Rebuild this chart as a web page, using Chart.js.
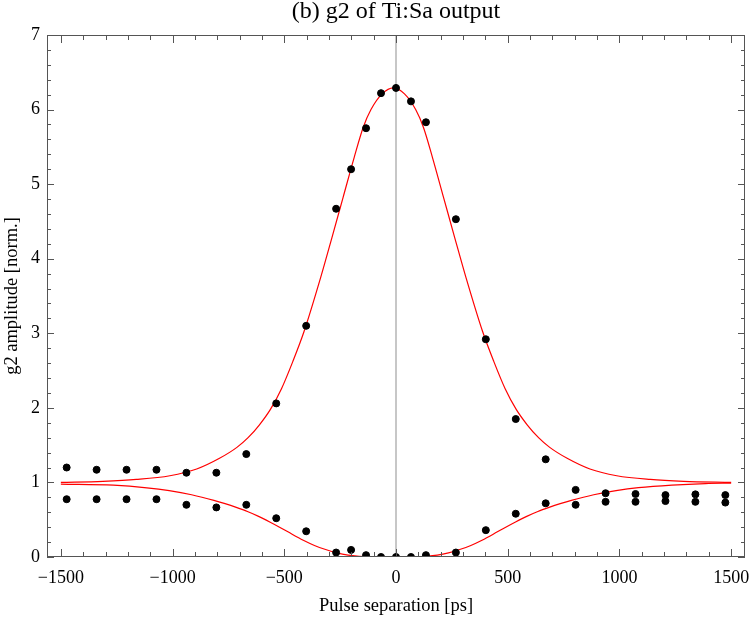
<!DOCTYPE html>
<html lang="en">
<head>
<meta charset="UTF-8">
<title>g2 of Ti:Sa output</title>
<style>
  html, body { margin: 0; padding: 0; background: #fff; }
  .chartBox { width: 750px; height: 618px; }
</style>
</head>
<body>
<div class="chartBox"><canvas id="myChart" width="750" height="618"></canvas></div>

<script src="https://cdn.jsdelivr.net/npm/chart.js"></script>
<script>
// measured g2 points, pulse separation in ps
const separation = [-1474, -1340, -1206, -1072, -938, -804, -670, -536, -402, -268, -201, -134, -67,
                    0, 67, 134, 268, 402, 536, 670, 804, 938, 1072, 1206, 1340, 1474];
const g2Upper = [1.20, 1.17, 1.17, 1.17, 1.13, 1.13, 1.38, 2.06, 3.10, 4.67, 5.20, 5.75, 6.22,
                 6.29, 6.11, 5.83, 4.53, 2.92, 1.85, 1.31, 0.90, 0.855, 0.845, 0.83, 0.84, 0.83];
const g2Lower = [0.775, 0.775, 0.775, 0.775, 0.70, 0.665, 0.70, 0.52, 0.345, 0.06, 0.095, 0.025, 0.0,
                 0.0, 0.0, 0.025, 0.06, 0.36, 0.58, 0.72, 0.70, 0.74, 0.74, 0.75, 0.74, 0.73];

// red fit curves
const fitUpperX = [-1500, -1312, -1162, -1012, -892, -792, -712, -662, -612, -562, -512, -462, -412,
                   -337, -287, -237, -187, -147, -112, -62, -12, 38, 88, 123, 163, 213, 263, 313,
                   388, 438, 488, 538, 588, 638, 688, 768, 868, 988, 1138, 1288, 1500];
const fitUpperY = [1.00, 1.015, 1.04, 1.09, 1.18, 1.32, 1.47, 1.60, 1.77, 1.98, 2.26, 2.62, 3.02,
                   3.75, 4.28, 4.82, 5.36, 5.76, 6.00, 6.21, 6.29, 6.21, 6.00, 5.76, 5.36, 4.82, 4.28, 3.75,
                   3.02, 2.62, 2.26, 1.98, 1.77, 1.60, 1.47, 1.32, 1.18, 1.09, 1.04, 1.015, 1.00];
const fitLowerX = [-1500, -1265, -1115, -1015, -915, -815, -765, -715, -665, -615, -565, -515, -465,
                   -415, -365, -315, -265, -215, -165, -115, -15, 85, 135, 185, 235, 285, 335, 385,
                   435, 485, 535, 585, 635, 685, 735, 785, 885, 985, 1085, 1235, 1385, 1500];
const fitLowerY = [0.978, 0.963, 0.928, 0.89, 0.835, 0.76, 0.715, 0.665, 0.61, 0.545, 0.47, 0.39, 0.305,
                   0.225, 0.155, 0.10, 0.055, 0.025, 0.01, 0.003, 0.0, 0.003, 0.01, 0.025, 0.055, 0.10, 0.155, 0.225,
                   0.305, 0.39, 0.47, 0.545, 0.61, 0.665, 0.715, 0.76, 0.835, 0.89, 0.93, 0.965, 0.985, 0.99];

const xTicks = [-1500, -1000, -500, 0, 500, 1000, 1500];
const yTicks = [0, 1, 2, 3, 4, 5, 6, 7];

const pts = (xs, ys) => xs.map((x, i) => ({x: x, y: ys[i]}));
const minus = v => v < 0 ? '\u2212' + Math.abs(v) : String(v);

// Mathematica style frame with inward ticks on all four sides
const frameTicks = {
  id: 'frameTicks',
  afterDatasetsDraw(chart) {
    const {ctx, chartArea: a, scales: {x, y}} = chart;
    ctx.save();
    ctx.strokeStyle = '#555';
    ctx.lineWidth = 1;
    ctx.strokeRect(a.left + 0.5, a.top + 0.5, a.right - a.left - 1, a.bottom - a.top - 1);
    ctx.beginPath();
    for (let v = -1500; v <= 1500; v += 100) {
      const px = Math.round(x.getPixelForValue(v)) + 0.5;
      const len = v % 500 === 0 ? 8 : 5;
      ctx.moveTo(px, a.bottom); ctx.lineTo(px, a.bottom - len);
      ctx.moveTo(px, a.top); ctx.lineTo(px, a.top + len);
    }
    for (let k = 0; k <= 35; k++) {
      const py = Math.round(y.getPixelForValue(k / 5)) + 0.5;
      const len = k % 5 === 0 ? 7 : 4;
      ctx.moveTo(a.left, py); ctx.lineTo(a.left + len, py);
      ctx.moveTo(a.right, py); ctx.lineTo(a.right - len, py);
    }
    ctx.stroke();
    ctx.restore();
  }
};

const serif = 'Liberation Serif';
const noPad = s => { s.paddingLeft = 0; s.paddingRight = 0; s.paddingTop = 0; s.paddingBottom = 0; };

new Chart(document.getElementById('myChart'), {
  type: 'scatter',
  data: {
    datasets: [
      { data: pts(separation, g2Upper), backgroundColor: '#000', borderColor: '#000',
        pointRadius: 3.5, showLine: false },
      { data: pts(separation, g2Lower), backgroundColor: '#000', borderColor: '#000',
        pointRadius: 3.5, showLine: false },
      { data: pts(fitUpperX, fitUpperY), borderColor: '#ff0000', borderWidth: 1.2,
        pointRadius: 0, showLine: true, cubicInterpolationMode: 'monotone' },
      { data: pts(fitLowerX, fitLowerY), borderColor: '#ff0000', borderWidth: 1.2,
        pointRadius: 0, showLine: true, cubicInterpolationMode: 'monotone' },
      { data: [{x: 0, y: 0}, {x: 0, y: 7}], borderColor: '#b4b4b4', borderWidth: 1.5,
        pointRadius: 0, showLine: true }
    ]
  },
  options: {
    responsive: false,
    animation: false,
    layout: { padding: { left: 0, right: 5, top: 0, bottom: 0 } },
    plugins: {
      legend: { display: false },
      tooltip: { enabled: false },
      title: {
        display: true,
        text: '(b) g2 of Ti:Sa output',
        fullSize: false,
        color: '#000',
        font: { family: serif, size: 24, weight: 'normal', lineHeight: 1 },
        padding: { top: 0, bottom: 11 }
      }
    },
    scales: {
      x: {
        type: 'linear',
        min: -1562, max: 1562,
        afterBuildTicks: s => { s.ticks = xTicks.map(v => ({value: v})); },
        afterFit: s => { s.height = 61; noPad(s); },
        grid: { display: false, drawTicks: false },
        border: { display: false },
        ticks: { color: '#000', padding: 10, maxRotation: 0, autoSkip: false,
                 font: { family: serif, size: 18 }, callback: v => minus(v) },
        title: { display: true, text: 'Pulse separation [ps]', color: '#000',
                 font: { family: serif, size: 18.5 }, padding: { top: 0, bottom: 1 } }
      },
      y: {
        type: 'linear',
        min: 0, max: 7,
        afterBuildTicks: s => { s.ticks = yTicks.map(v => ({value: v})); },
        afterFit: s => { s.width = 47; noPad(s); },
        grid: { display: false, drawTicks: false },
        border: { display: false },
        ticks: { color: '#000', padding: 7, font: { family: serif, size: 18 } },
        title: { display: true, text: 'g2 amplitude [norm.]', color: '#000',
                 font: { family: serif, size: 18.5 }, padding: { top: 1, bottom: 0 } }
      }
    }
  },
  plugins: [frameTicks]
});
</script>
</body>
</html>
